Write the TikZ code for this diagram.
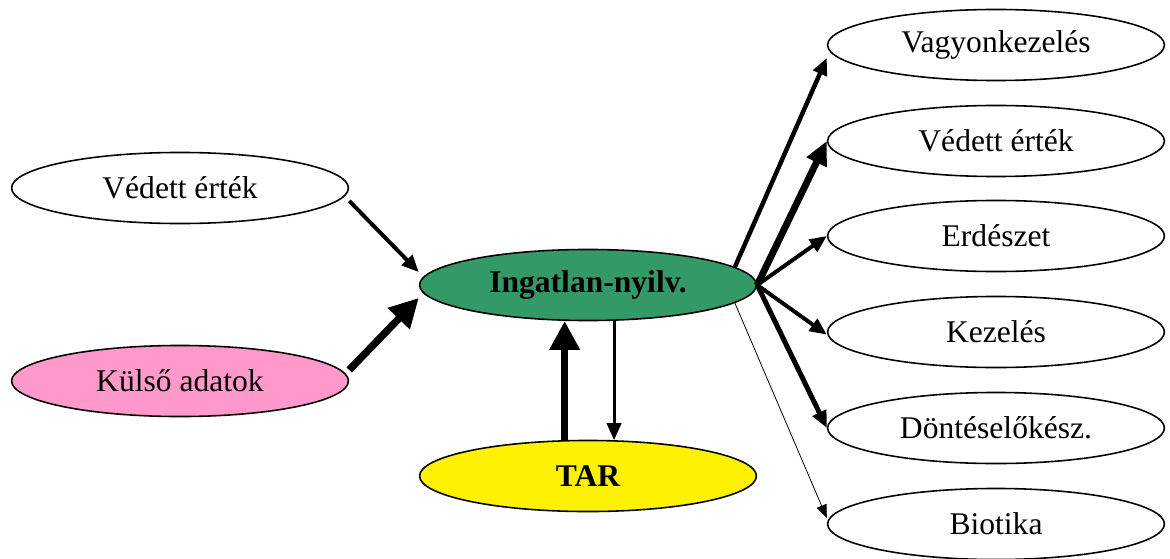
\documentclass[tikz,border=0pt]{standalone}
\usepackage{fontspec}
\setmainfont{Liberation Serif}
\usetikzlibrary{shapes.geometric,arrows.meta}
\definecolor{seagreen}{RGB}{51,153,102}
\definecolor{rosepink}{RGB}{255,153,204}
\tikzstyle{oval} = [draw=black, ellipse, line width=0.6pt, minimum width=128pt, minimum height=27pt, inner sep=0pt, font=\fontsize{12}{14}\selectfont]
\tikzstyle{hair} = [line width=0.3pt, -{Triangle[length=5pt, width=4pt]}]
\tikzstyle{flow} = [line width=1.5pt, -{Triangle[length=6.5pt, width=5.5pt]}]
\tikzstyle{heavy} = [line width=2.8pt, -{Triangle[length=11pt, width=11pt]}]

\begin{document}
\begin{tikzpicture}[x=0.38pt, y=-0.38pt]
  \useasboundingbox (0,0) rectangle (1170,558);

  % sources on the left
  \node[oval] (ved) at (180,188) {Védett érték};
  \node[oval, fill=rosepink] (kul) at (180,381) {Külső adatok};

  % the register and TAR
  \node[oval, fill=seagreen, font=\fontsize{12}{14}\selectfont\bfseries] (ing) at (588,285) {Ingatlan-nyilv.};
  \node[oval, fill=yellow, font=\fontsize{12}{14}\selectfont\bfseries] (tar) at (588,476) {TAR};

  % users on the right
  \node[oval] (vagy) at (996,45) {Vagyonkezelés};
  \node[oval] (vedr) at (996,141) {Védett érték};
  \node[oval] (erd) at (996,236) {Erdészet};
  \node[oval] (kez) at (996,332) {Kezelés};
  \node[oval] (dont) at (996,428) {Döntéselőkész.};
  \node[oval] (bio) at (996,524) {Biotika};

  \draw[flow] ([yshift=-4.9pt]ved.east) -- ([yshift=4.9pt]ing.west);
  \draw[heavy] ([yshift=4.2pt]kul.east) -- ([yshift=-4.9pt]ing.west);
  \draw[heavy] (tar.123) -- (ing.237);
  \draw[flow, line width=1.1pt] (ing.-54.5) -- (tar.54.5);

  \draw[flow, line width=1.7pt] (ing.7) -- ([yshift=-4.9pt]vagy.west);
  \draw[heavy, line width=2.6pt, -{Triangle[length=9pt, width=8pt]}] (ing.east) -- (vedr.west);
  \draw[flow] (ing.east) -- (erd.west);
  \draw[flow] (ing.east) -- ([yshift=-1pt]kez.west);
  \draw[flow, line width=1.9pt] (ing.east) -- (dont.west);
  \draw[hair] (ing.-7) -- ([yshift=2.3pt]bio.west);

\end{tikzpicture}
\end{document}
